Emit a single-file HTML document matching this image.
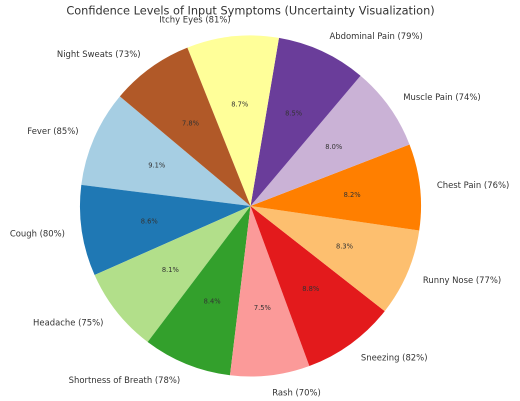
<!DOCTYPE html>
<html lang="en">
<head>
<meta charset="utf-8">
<title>Confidence Levels of Input Symptoms</title>
<style>
html,body{margin:0;padding:0;background:#fff;width:520px;height:401px;overflow:hidden}
svg{display:block;font-family:"DejaVu Sans","Liberation Sans",sans-serif}
</style>
</head>
<body>
<svg id="chart" width="520" height="401" viewBox="0 0 520 401" xmlns="http://www.w3.org/2000/svg">
<rect width="520" height="401" fill="#ffffff"></rect>
<g id="wedges"></g>
<g id="pcts"></g>
<g id="labels"></g>
<text x="250.5" y="14.5" text-anchor="middle" font-size="11.33" fill="#333333">Confidence Levels of Input Symptoms (Uncertainty Visualization)</text>
</svg>
<script>
const categories = ["Fever","Cough","Headache","Shortness of Breath","Rash","Sneezing","Runny Nose","Chest Pain","Muscle Pain","Abdominal Pain","Itchy Eyes","Night Sweats"];
const confidence = [85,80,75,78,70,82,77,76,74,79,81,73];
const palette = ["#a6cee3","#1f78b4","#b2df8a","#33a02c","#fb9a99","#e31a1c","#fdbf6f","#ff7f00","#cab2d6","#6a3d9a","#ffff99","#b15928"];

const cx = 250.5, cy = 206, radius = 170.5, startAngle = 140;
const NS = "http://www.w3.org/2000/svg";
const total = confidence.reduce(function (a, b) { return a + b; }, 0);
function px(deg, r) { return cx + r * Math.cos(deg * Math.PI / 180); }
function py(deg, r) { return cy - r * Math.sin(deg * Math.PI / 180); }
function slug(s) { return s.toLowerCase().replace(/\s+/g, "-"); }

const wedgeLayer = document.getElementById("wedges");
const pctLayer = document.getElementById("pcts");
const labelLayer = document.getElementById("labels");

let angle = startAngle;
confidence.forEach(function (value, i) {
  const sweep = value / total * 360;
  const a0 = angle, a1 = angle + sweep, mid = angle + sweep / 2;
  const large = sweep > 180 ? 1 : 0;

  const path = document.createElementNS(NS, "path");
  path.setAttribute("d", "M" + cx + " " + cy + "L" + px(a0, radius) + " " + py(a0, radius) +
    "A" + radius + " " + radius + " 0 " + large + " 0 " + px(a1, radius) + " " + py(a1, radius) + "Z");
  path.setAttribute("fill", palette[i % palette.length]);
  
  
  wedgeLayer.appendChild(path);

  const pct = document.createElementNS(NS, "text");
  pct.setAttribute("x", px(mid, radius * 0.6));
  pct.setAttribute("y", py(mid, radius * 0.6) + 2.4);
  pct.setAttribute("text-anchor", "middle");
  pct.setAttribute("font-size", "6.7");
  pct.setAttribute("fill", "#333333");
  pct.textContent = (value / total * 100).toFixed(1) + "%";
  
  
  pctLayer.appendChild(pct);

  const lx = px(mid, radius * 1.1);
  const label = document.createElementNS(NS, "text");
  label.setAttribute("x", lx);
  label.setAttribute("y", py(mid, radius * 1.1) + 3);
  label.setAttribute("text-anchor", lx < cx ? "end" : "start");
  label.setAttribute("font-size", "8.45");
  label.setAttribute("fill", "#333333");
  label.textContent = categories[i] + " (" + value + "%)";
  
  
  labelLayer.appendChild(label);

  angle = a1;
});
</script>
</body>
</html>
